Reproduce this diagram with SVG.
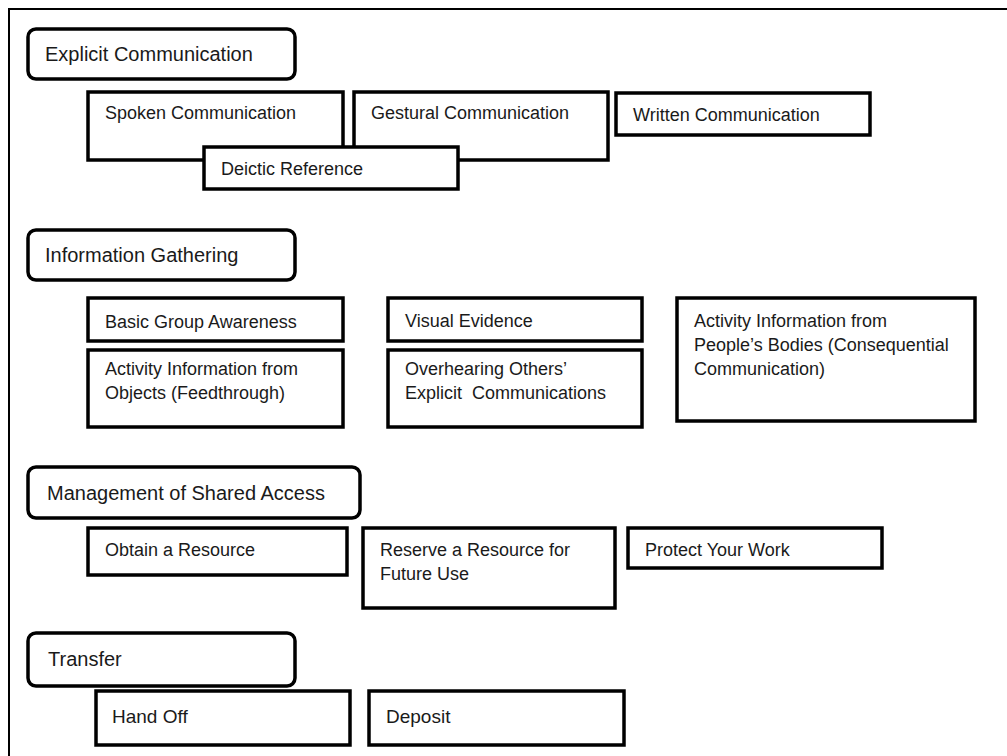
<svg xmlns="http://www.w3.org/2000/svg" width="1007" height="756" viewBox="0 0 1007 756">
  <style>
    .frame { fill: none; stroke: #000; stroke-width: 2; }
    .cat { fill: #fff; stroke: #000; stroke-width: 3.5; }
    .item { fill: #fff; stroke: #000; stroke-width: 3.5; }
    text { font-family: "Liberation Sans", Arial, sans-serif; font-size: 18px; fill: #1a1a1a; }
    .big { font-size: 20px; }
    .mid { font-size: 19px; }
  </style>
  <rect width="1007" height="756" fill="#fff"/>
  <!-- outer frame: open on the right and bottom -->
  <path class="frame" d="M1007 9 H9 V756"/>

  <g id="connectors"></g>

  <!-- Explicit Communication -->
  <g id="explicit-communication">
    <rect class="cat" x="28" y="29" width="267" height="50" rx="8"/>
    <text class="big" x="45" y="61">Explicit Communication</text>
  </g>
  <g id="spoken-communication">
    <rect class="item" x="88" y="92" width="255" height="68"/>
    <text x="105" y="119">Spoken Communication</text>
  </g>
  <g id="gestural-communication">
    <rect class="item" x="354" y="92" width="254" height="68"/>
    <text x="371" y="119">Gestural Communication</text>
  </g>
  <g id="written-communication">
    <rect class="item" x="616" y="93" width="254" height="42"/>
    <text x="633" y="121">Written Communication</text>
  </g>
  <g id="deictic-reference">
    <rect class="item" x="204" y="147" width="254" height="42"/>
    <text x="221" y="175">Deictic Reference</text>
  </g>

  <!-- Information Gathering -->
  <g id="information-gathering">
    <rect class="cat" x="28" y="230" width="267" height="50" rx="8"/>
    <text class="big" x="45" y="262">Information Gathering</text>
  </g>
  <g id="basic-group-awareness">
    <rect class="item" x="88" y="298" width="255" height="43"/>
    <text x="105" y="328">Basic Group Awareness</text>
  </g>
  <g id="visual-evidence">
    <rect class="item" x="388" y="298" width="254" height="43"/>
    <text x="405" y="327">Visual Evidence</text>
  </g>
  <g id="activity-bodies">
    <rect class="item" x="677" y="298" width="298" height="123"/>
    <text x="694" y="327">Activity Information from</text>
    <text x="694" y="351">People’s Bodies (Consequential</text>
    <text x="694" y="375">Communication)</text>
  </g>
  <g id="activity-objects">
    <rect class="item" x="88" y="350" width="255" height="77"/>
    <text x="105" y="375">Activity Information from</text>
    <text x="105" y="399">Objects (Feedthrough)</text>
  </g>
  <g id="overhearing">
    <rect class="item" x="388" y="350" width="254" height="77"/>
    <text x="405" y="375">Overhearing Others’</text>
    <text x="405" y="399" xml:space="preserve">Explicit  Communications</text>
  </g>

  <!-- Management of Shared Access -->
  <g id="management-shared-access">
    <rect class="cat" x="28" y="467" width="332" height="51" rx="8"/>
    <text class="big" x="47" y="500">Management of Shared Access</text>
  </g>
  <g id="obtain-resource">
    <rect class="item" x="88" y="528" width="259" height="47"/>
    <text x="105" y="556">Obtain a Resource</text>
  </g>
  <g id="reserve-resource">
    <rect class="item" x="363" y="528" width="252" height="80"/>
    <text x="380" y="556">Reserve a Resource for</text>
    <text x="380" y="580">Future Use</text>
  </g>
  <g id="protect-work">
    <rect class="item" x="628" y="528" width="254" height="40"/>
    <text x="645" y="556">Protect Your Work</text>
  </g>

  <!-- Transfer -->
  <g id="transfer">
    <rect class="cat" x="28" y="633" width="267" height="53" rx="8"/>
    <text class="big" x="48" y="666">Transfer</text>
  </g>
  <g id="hand-off">
    <rect class="item" x="96" y="691" width="254" height="54"/>
    <text class="mid" x="112" y="723">Hand Off</text>
  </g>
  <g id="deposit">
    <rect class="item" x="369" y="691" width="255" height="54"/>
    <text class="mid" x="386" y="723">Deposit</text>
  </g>
</svg>
